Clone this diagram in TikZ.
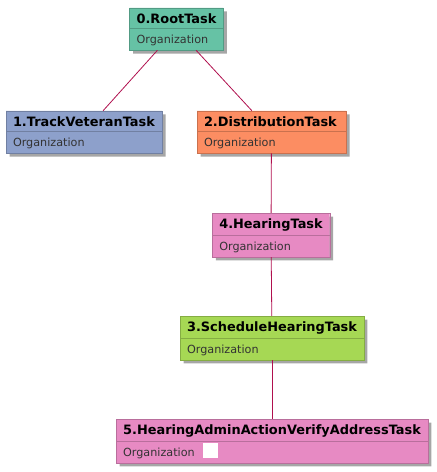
\documentclass[tikz,border=0pt]{standalone}
\usepackage{fontspec}
\setmainfont{DejaVu Sans}
\usetikzlibrary{shapes.multipart,shadows}
\definecolor{rootc}{HTML}{66C2A5}
\definecolor{bluec}{HTML}{8DA0CB}
\definecolor{orangec}{HTML}{FC8D62}
\definecolor{pinkc}{HTML}{E78AC3}
\definecolor{greenc}{HTML}{A6D854}
\definecolor{edgec}{HTML}{B0104E}
\newcommand{\partstrut}{\rule[-1pt]{0pt}{12pt}}
\newcommand{\tasktitle}[1]{{\fontsize{12.9}{14}\selectfont\bfseries\color{black}#1}\partstrut}

\begin{document}
\begin{tikzpicture}[x=1pt,y=-1pt,
	task/.style={rectangle split, rectangle split parts=2,
		rectangle split part align=left, draw=#1!80!black, fill=#1,
		line width=0.4pt, inner xsep=7pt, inner ysep=4pt,
		text=black!80, font=\fontsize{11.2}{13}\selectfont,
		drop shadow={shadow xshift=3.5pt, shadow yshift=-3.5pt, fill=black, opacity=0.35}},
	link/.style={draw=edgec, line width=0.8pt}]
\useasboundingbox (0,0) rectangle (437,472);
\node[task=rootc, minimum width=93pt] (root) at (176.5,29)
	{\tasktitle{0.RootTask}\nodepart{two}Organization\partstrut};
\node[task=bluec, minimum width=156pt] (track) at (84,132)
	{\tasktitle{1.TrackVeteranTask}\nodepart{two}Organization\partstrut};
\node[task=orangec, minimum width=149pt] (distr) at (271.5,132)
	{\tasktitle{2.DistributionTask}\nodepart{two}Organization\partstrut};
\node[task=pinkc, minimum width=116pt] (hearing) at (271,235)
	{\tasktitle{4.HearingTask}\nodepart{two}Organization\partstrut};
\node[task=greenc, minimum width=180pt] (sched) at (272,338)
	{\tasktitle{3.ScheduleHearingTask}\nodepart{two}Organization\partstrut};
\node[task=pinkc, minimum width=310pt] (verify) at (272,441)
	{\tasktitle{5.HearingAdminActionVerifyAddressTask}\nodepart{two}Organization\hspace{8pt}%
	\smash{\textcolor{white}{\rule[-2pt]{15pt}{15pt}}}\partstrut};
% links between the tasks
\draw[link] (root) -- (track);
\draw[link] (root) -- (distr);
\draw[link] (distr) -- (hearing);
\draw[link] (hearing) -- (sched);
\draw[link] (sched) -- (verify);
\end{tikzpicture}
\end{document}
